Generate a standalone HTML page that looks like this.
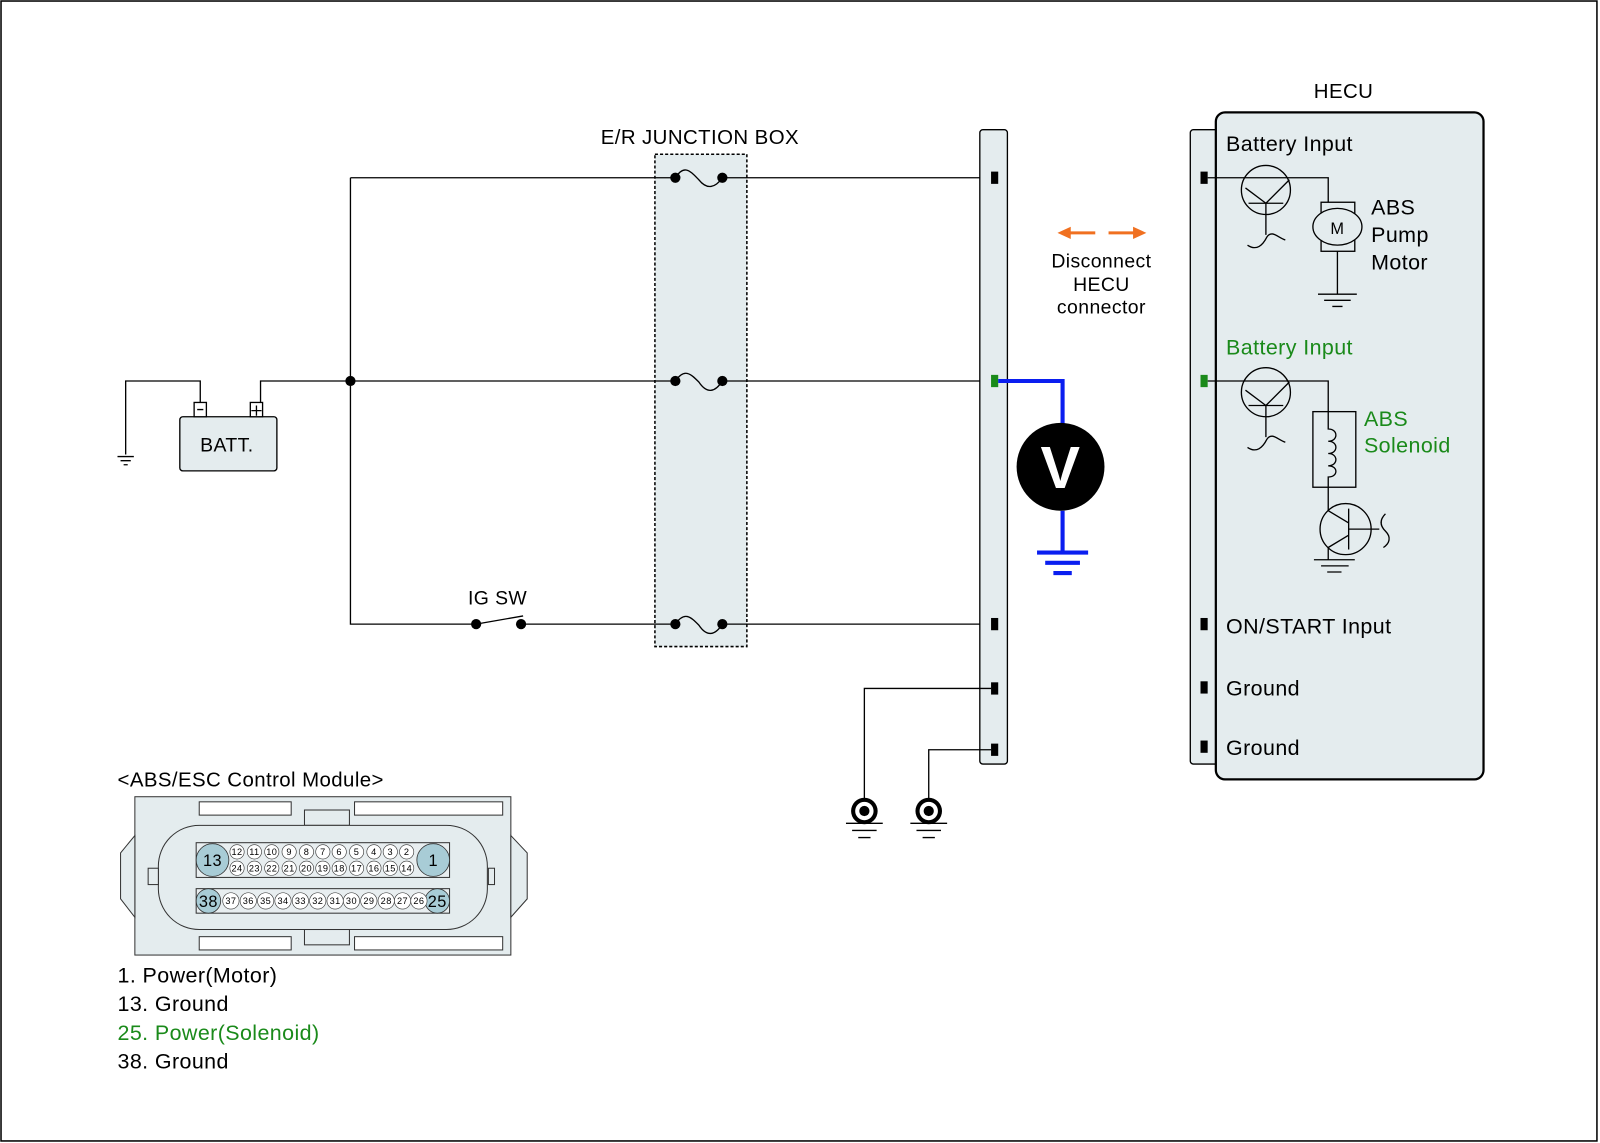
<!DOCTYPE html>
<html><head><meta charset="utf-8"><style>
html,body{margin:0;padding:0;background:#fff}
svg{display:block}
text{font-family:"Liberation Sans",Arial,sans-serif;letter-spacing:0.4px}
</style></head><body>
<svg width="1600" height="1143" viewBox="0 0 1566 1119" preserveAspectRatio="none" xmlns="http://www.w3.org/2000/svg">
<rect x="1" y="1" width="1562" height="1116" fill="#fff" stroke="#000" stroke-width="1.5"/>
<g stroke="#000" stroke-width="1.3" fill="none">
<rect x="641" y="151" width="90" height="482" fill="#e4ecee" stroke-dasharray="3,2" stroke-width="1.5"/>
<path d="M343 174H661M707 174H975"/>
<path d="M255 394V373H661M707 373H975"/>
<path d="M343 174V611H466M510 611H661M707 611H975"/>
<path d="M196 394V373H123V445"/>
<path d="M115 447H131M118 451H128M121 455H125"/>
<path d="M466 611L512 603"/>
<path d="M661 174C670 160 676 168 684 176C692 186 700 184 707 174"/>
<path d="M661 373C670 360 676 366 684 374C692 386 700 384 707 373"/>
<path d="M661 611C670 598 676 604 684 612C692 624 700 622 707 611"/>
<rect x="176" y="408" width="95" height="53" rx="3" fill="#e4ecee"/>
<rect x="190" y="394" width="12" height="14" fill="#fff"/>
<rect x="245" y="394" width="12" height="14" fill="#fff"/>
<path d="M193 401H199M246 402H256M251 397V407"/>
<rect x="959" y="127" width="27" height="621" rx="3" fill="#e4ecee"/>
<path d="M970 674H846V785M970 734H909V785"/>
<path d="M828 806H864M834 813H858M840 820H852"/>
<path d="M891 806H927M897 813H921M903 820H915"/>
<rect x="1165" y="127" width="30" height="621" rx="3" fill="#e4ecee"/>
<rect x="1190" y="110" width="262" height="653" rx="9" fill="#e4ecee" stroke-width="2.2"/>
<path d="M1182 174H1300V198M1182 373H1300V403"/>
<circle cx="1239" cy="186" r="24"/><circle cx="1239" cy="384" r="24"/>
<path d="M1222 199H1256M1239 199V230M1239 199L1219 184M1239 199L1262 176"/>
<path d="M1222 397H1256M1239 397V428M1239 397L1219 382M1239 397L1262 374"/>
<path d="M1221 240C1230 246 1236 240 1240 232C1245 225 1250 232 1258 235"/>
<path d="M1221 438C1230 444 1236 438 1240 430C1245 423 1250 430 1258 433"/>
<rect x="1293" y="198" width="33" height="48"/>
<ellipse cx="1309" cy="222" rx="24" ry="18" fill="#e4ecee"/>
<path d="M1309 246V288M1290 288H1328M1296 294H1322M1304 300H1314"/>
<rect x="1285" y="403" width="42" height="74"/>
<path d="M1300 403V420C1310 420 1310 432 1300 432C1310 432 1310 444 1300 444C1310 444 1310 456 1300 456C1310 456 1310 467 1300 467V477"/>
<path d="M1300 477V500"/>
<circle cx="1317" cy="518" r="25"/>
<path d="M1300 500L1320 512M1320 498V538M1300 536L1320 524M1320 518H1350M1300 536V548M1286 548H1326M1293 554H1320M1299 560H1313"/>
<path d="M1356 503C1349 510 1352 516 1356 520C1362 526 1360 532 1354 536"/>
</g>
<g fill="#000">
<circle cx="343" cy="373" r="5"/>
<circle cx="661" cy="174" r="5"/><circle cx="707" cy="174" r="5"/>
<circle cx="661" cy="373" r="5"/><circle cx="707" cy="373" r="5"/>
<circle cx="661" cy="611" r="5"/><circle cx="707" cy="611" r="5"/>
<circle cx="466" cy="611" r="5"/><circle cx="510" cy="611" r="5"/>
<rect x="970" y="168" width="7" height="12"/>
<rect x="970" y="605" width="7" height="12"/>
<rect x="970" y="668" width="7" height="12"/>
<rect x="970" y="728" width="7" height="12"/>
<rect x="1175" y="168" width="7" height="12"/>
<rect x="1175" y="605" width="7" height="12"/>
<rect x="1175" y="667" width="7" height="12"/>
<rect x="1175" y="725" width="7" height="12"/>
<circle cx="846" cy="794" r="13"/><circle cx="909" cy="794" r="13"/>
</g>
<circle cx="846" cy="794" r="9" fill="#fff"/><circle cx="846" cy="794" r="5"/>
<circle cx="909" cy="794" r="9" fill="#fff"/><circle cx="909" cy="794" r="5"/>
<rect x="970" y="367" width="7" height="12" fill="#1a8a1a"/>
<rect x="1175" y="367" width="7" height="12" fill="#1a8a1a"/>
<g stroke="#0a1ef0" stroke-width="4" fill="none">
<path d="M977 373H1040V415M1040 500V540M1015 541H1065M1023 551H1057M1031 561H1049"/>
</g>
<circle cx="1038" cy="457" r="43" fill="#000"/>
<text x="1038" y="478" font-size="58" font-weight="bold" fill="#fff" text-anchor="middle">V</text>
<g stroke="#f07020" stroke-width="3" fill="#f07020">
<path d="M1072 228H1045" fill="none"/><path d="M1035 228L1048 222V234Z" stroke="none"/>
<path d="M1085 228H1112" fill="none"/><path d="M1122 228L1109 222V234Z" stroke="none"/>
</g>
<g font-size="21" fill="#000">
<text x="685" y="141" text-anchor="middle" font-size="20">E/R JUNCTION BOX</text>
<text x="222" y="442" text-anchor="middle" font-size="19">BATT.</text>
<text x="487" y="592" text-anchor="middle" font-size="19">IG SW</text>
<text x="1078" y="262" text-anchor="middle" font-size="19">Disconnect</text>
<text x="1078" y="285" text-anchor="middle" font-size="19">HECU</text>
<text x="1078" y="307" text-anchor="middle" font-size="19">connector</text>
<text x="1315" y="96" text-anchor="middle" font-size="20">HECU</text>
<text x="1200" y="148">Battery Input</text>
<text x="1342" y="210">ABS</text>
<text x="1342" y="237">Pump</text>
<text x="1342" y="264">Motor</text>
<text x="1309" y="229" text-anchor="middle" font-size="16">M</text>
<text x="1200" y="347" fill="#1a8a1a">Battery Input</text>
<text x="1335" y="417" fill="#1a8a1a">ABS</text>
<text x="1335" y="443" fill="#1a8a1a">Solenoid</text>
<text x="1200" y="620">ON/START Input</text>
<text x="1200" y="681">Ground</text>
<text x="1200" y="739">Ground</text>
<text x="115" y="770" font-size="20">&lt;ABS/ESC Control Module&gt;</text>
<text x="115" y="962">1. Power(Motor)</text>
<text x="115" y="990">13. Ground</text>
<text x="115" y="1018" fill="#1a8a1a">25. Power(Solenoid)</text>
<text x="115" y="1046">38. Ground</text>
</g>
<g stroke="#333" stroke-width="1" fill="#e4ecee">
<rect x="132" y="780" width="368" height="155"/>
<path d="M132 818L118 835V880L132 898Z"/>
<path d="M500 818L516 835V880L500 898Z"/>
<rect x="195" y="785" width="90" height="13" fill="#fff"/>
<rect x="347" y="785" width="145" height="13" fill="#fff"/>
<rect x="195" y="917" width="90" height="13" fill="#fff"/>
<rect x="347" y="917" width="145" height="13" fill="#fff"/>
<rect x="298" y="793" width="44" height="15"/>
<rect x="298" y="910" width="44" height="15"/>
<rect x="155" y="808" width="322" height="102" rx="40"/>
<rect x="145" y="850" width="10" height="16"/>
<rect x="478" y="850" width="6" height="16"/>
<rect x="192" y="825" width="248" height="34" fill="#e8eef0"/>
<rect x="192" y="870" width="248" height="24" fill="#e8eef0"/>
</g>
<g fill="#a8ccd6" stroke="#333" stroke-width="0.8">
<circle cx="208" cy="842" r="16"/><circle cx="424" cy="842" r="16"/>
<circle cx="204" cy="882" r="12"/><circle cx="428" cy="882" r="12"/>
</g>
<g font-size="16" text-anchor="middle" fill="#000">
<text x="208" y="848">13</text><text x="424" y="848">1</text>
<text x="204" y="888">38</text><text x="428" y="888">25</text>
</g>
<g font-size="9" text-anchor="middle" fill="#000" stroke="#333" stroke-width="0.6">
<g fill="#fff">
<circle cx="232" cy="834" r="7"/><circle cx="249" cy="834" r="7"/><circle cx="266" cy="834" r="7"/><circle cx="283" cy="834" r="7"/><circle cx="300" cy="834" r="7"/><circle cx="316" cy="834" r="7"/><circle cx="332" cy="834" r="7"/><circle cx="349" cy="834" r="7"/><circle cx="366" cy="834" r="7"/><circle cx="382" cy="834" r="7"/><circle cx="398" cy="834" r="7"/>
<circle cx="232" cy="850" r="7"/><circle cx="249" cy="850" r="7"/><circle cx="266" cy="850" r="7"/><circle cx="283" cy="850" r="7"/><circle cx="300" cy="850" r="7"/><circle cx="316" cy="850" r="7"/><circle cx="332" cy="850" r="7"/><circle cx="349" cy="850" r="7"/><circle cx="366" cy="850" r="7"/><circle cx="382" cy="850" r="7"/><circle cx="398" cy="850" r="7"/>
<circle cx="226" cy="882" r="8"/><circle cx="243" cy="882" r="8"/><circle cx="260" cy="882" r="8"/><circle cx="277" cy="882" r="8"/><circle cx="294" cy="882" r="8"/><circle cx="311" cy="882" r="8"/><circle cx="328" cy="882" r="8"/><circle cx="344" cy="882" r="8"/><circle cx="361" cy="882" r="8"/><circle cx="378" cy="882" r="8"/><circle cx="394" cy="882" r="8"/><circle cx="410" cy="882" r="8"/>
</g>
<g stroke="none">
<text x="232" y="837">12</text><text x="249" y="837">11</text><text x="266" y="837">10</text><text x="283" y="837">9</text><text x="300" y="837">8</text><text x="316" y="837">7</text><text x="332" y="837">6</text><text x="349" y="837">5</text><text x="366" y="837">4</text><text x="382" y="837">3</text><text x="398" y="837">2</text>
<text x="232" y="853">24</text><text x="249" y="853">23</text><text x="266" y="853">22</text><text x="283" y="853">21</text><text x="300" y="853">20</text><text x="316" y="853">19</text><text x="332" y="853">18</text><text x="349" y="853">17</text><text x="366" y="853">16</text><text x="382" y="853">15</text><text x="398" y="853">14</text>
<text x="226" y="885">37</text><text x="243" y="885">36</text><text x="260" y="885">35</text><text x="277" y="885">34</text><text x="294" y="885">33</text><text x="311" y="885">32</text><text x="328" y="885">31</text><text x="344" y="885">30</text><text x="361" y="885">29</text><text x="378" y="885">28</text><text x="394" y="885">27</text><text x="410" y="885">26</text>
</g>
</g>
</svg>
</body></html>
